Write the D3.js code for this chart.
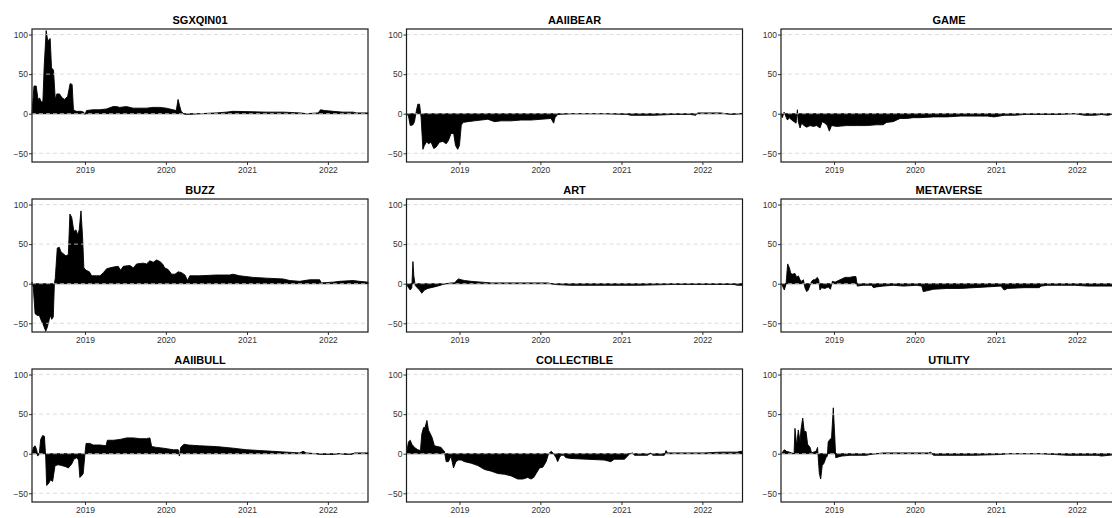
<!DOCTYPE html>
<html lang="en">
<head>
  <meta charset="UTF-8">
  <title>Sentiment series</title>
  <script src="https://d3js.org/d3.v7.min.js"></script>
  <style>
    body {
      margin: 0;
      background: #fff;
      font-family: "Liberation Sans", Arial, sans-serif;
    }
    .title {
      font-size: 11px;
      font-weight: bold;
      text-anchor: middle;
    }
    .axis text {
      font-size: 8.5px;
      fill: #333;
      font-family: "Liberation Sans", Arial, sans-serif;
    }
    .axis line { stroke: #333; }
    .axis path { display: none; }
    .grid {
      stroke: #d4d4d4;
      stroke-dasharray: 4 3;
      stroke-width: 0.8;
    }
  </style>
</head>
<body>
<svg width="1112" height="518"></svg>
<script>
  // Series, as [date, value]
  const sgxqin01 = [
    ["2018-05-07",0],["2018-05-16",35],["2018-05-26",35],["2018-06-03",18],["2018-06-10",20],["2018-06-17",15],
    ["2018-06-25",15],["2018-07-01",60],["2018-07-10",105],["2018-07-17",92],["2018-07-28",95],["2018-08-03",58],
    ["2018-08-12",55],["2018-08-20",18],["2018-08-27",25],["2018-09-08",25],["2018-09-20",20],["2018-10-02",18],
    ["2018-10-15",22],["2018-10-26",38],["2018-11-04",37],["2018-11-10",5],["2018-11-22",3],["2018-12-15",3],
    ["2018-12-26",2],["2019-01-01",-1],["2019-01-08",4],["2019-02-07",5],["2019-03-09",5],["2019-04-08",6],
    ["2019-05-08",9],["2019-05-23",9],["2019-06-07",8],["2019-07-07",9],["2019-08-06",7],["2019-10-05",7],
    ["2019-11-04",8],["2019-12-04",8],["2020-01-03",7],["2020-02-17",4],["2020-02-25",18],["2020-03-03",10],
    ["2020-03-10",3],["2020-03-21",0],["2020-04-02",-1],["2020-06-01",0],["2020-08-15",1],["2020-09-30",2],
    ["2020-10-30",3],["2021-03-31",2],["2021-06-14",2],["2021-08-28",1],["2021-09-27",0],["2021-11-18",1],
    ["2021-11-29",5],["2021-12-18",4],["2022-01-25",3],["2022-03-10",2],["2022-04-25",2],["2022-05-10",1],
    ["2022-07-01",1]
  ];
  const aaiibear = [
    ["2018-05-07",0],["2018-05-16",-3],["2018-05-24",-15],["2018-06-05",-14],["2018-06-12",-10],["2018-06-20",3],
    ["2018-06-27",12],["2018-07-05",12],["2018-07-12",-5],["2018-07-20",-45],["2018-07-27",-40],["2018-08-07",-35],
    ["2018-08-14",-38],["2018-08-26",-36],["2018-09-07",-44],["2018-09-18",-42],["2018-10-03",-36],["2018-10-18",-35],
    ["2018-11-02",-38],["2018-11-12",-34],["2018-11-24",-25],["2018-12-06",-25],["2018-12-14",-40],["2018-12-24",-45],
    ["2019-01-01",-40],["2019-01-09",-15],["2019-01-16",-11],["2019-02-08",-10],["2019-03-10",-9],["2019-04-09",-8],
    ["2019-05-09",-7],["2019-06-08",-10],["2019-07-08",-9],["2019-08-22",-9],["2019-10-06",-8],["2019-11-20",-8],
    ["2020-01-04",-7],["2020-02-18",-6],["2020-03-01",-12],["2020-03-07",-5],["2020-03-19",-1],["2020-05-18",0],
    ["2020-10-15",0],["2021-01-29",-1],["2021-02-12",-2],["2021-05-29",-2],["2021-08-12",-1],["2021-11-10",-1],
    ["2021-12-02",-2],["2021-12-10",1],["2022-03-25",1],["2022-05-09",-1],["2022-07-01",0]
  ];
  const game = [
    ["2018-05-07",0],["2018-05-13",-5],["2018-05-21",2],["2018-05-28",-3],["2018-06-05",-8],["2018-06-14",-5],
    ["2018-06-24",-8],["2018-07-05",-10],["2018-07-14",-12],["2018-07-20",5],["2018-07-24",-10],["2018-08-01",-18],
    ["2018-08-08",-12],["2018-08-19",-15],["2018-08-31",-17],["2018-09-15",-15],["2018-09-30",-16],["2018-10-15",-15],
    ["2018-10-30",-18],["2018-11-09",-10],["2018-11-21",-12],["2018-12-02",-15],["2018-12-11",-22],["2018-12-21",-15],
    ["2019-01-13",-16],["2019-02-27",-15],["2019-04-13",-15],["2019-05-28",-15],["2019-07-12",-14],["2019-08-11",-14],
    ["2019-08-26",-11],["2019-09-25",-10],["2019-10-26",-6],["2019-11-25",-6],["2019-12-25",-5],["2020-01-24",-5],
    ["2020-03-25",-4],["2020-05-24",-4],["2020-07-24",-3],["2020-09-23",-3],["2020-11-23",-3],["2020-12-23",-4],
    ["2021-02-07",-2],["2021-03-24",-2],["2021-05-08",-1],["2021-07-23",-1],["2021-10-07",-1],["2021-12-22",0],
    ["2022-02-05",-2],["2022-03-22",-2],["2022-04-21",-1],["2022-05-21",-2],["2022-06-05",-1],["2022-07-01",-1]
  ];
  const buzz = [
    ["2018-05-07",2],["2018-05-13",-5],["2018-05-21",-38],["2018-05-31",-40],["2018-06-09",-40],["2018-06-20",-48],
    ["2018-06-27",-52],["2018-07-08",-60],["2018-07-15",-55],["2018-07-24",-45],["2018-07-30",-40],["2018-08-04",-45],
    ["2018-08-11",-42],["2018-08-16",0],["2018-08-20",7],["2018-08-29",45],["2018-09-07",46],["2018-09-15",40],
    ["2018-09-25",38],["2018-10-07",35],["2018-10-18",37],["2018-10-25",88],["2018-11-02",84],["2018-11-12",66],
    ["2018-11-21",68],["2018-11-29",62],["2018-12-06",68],["2018-12-14",92],["2018-12-21",60],["2018-12-27",20],
    ["2019-01-06",17],["2019-01-21",15],["2019-01-31",10],["2019-02-23",10],["2019-03-10",10],["2019-03-25",14],
    ["2019-04-09",19],["2019-05-09",21],["2019-05-31",22],["2019-06-11",17],["2019-06-23",22],["2019-07-23",23],
    ["2019-08-07",20],["2019-08-22",25],["2019-09-21",26],["2019-10-06",25],["2019-10-21",29],["2019-11-05",27],
    ["2019-11-20",30],["2019-12-05",28],["2019-12-17",25],["2019-12-27",20],["2020-01-11",18],["2020-01-27",12],
    ["2020-02-11",12],["2020-02-26",15],["2020-03-12",14],["2020-03-27",11],["2020-04-08",4],["2020-04-18",10],
    ["2020-06-02",10],["2020-08-16",11],["2020-10-15",11],["2020-10-30",12],["2020-11-29",10],["2021-01-29",8],
    ["2021-03-30",7],["2021-06-13",6],["2021-07-13",4],["2021-08-27",3],["2021-10-11",5],["2021-11-25",5],
    ["2021-12-02",1],["2022-01-24",2],["2022-02-23",3],["2022-04-24",4],["2022-05-24",3],["2022-07-01",2]
  ];
  const art = [
    ["2018-05-07",0],["2018-05-16",-5],["2018-05-24",-8],["2018-05-31",-5],["2018-06-05",28],["2018-06-09",10],
    ["2018-06-15",-2],["2018-06-24",-5],["2018-07-05",-8],["2018-07-15",-12],["2018-07-27",-8],["2018-08-11",-6],
    ["2018-08-26",-5],["2018-09-10",-4],["2018-09-25",-3],["2018-10-18",-1],["2018-11-02",0],["2018-11-24",1],
    ["2018-12-09",1],["2018-12-16",3],["2018-12-27",6],["2019-01-09",5],["2019-01-24",4],["2019-02-23",3],
    ["2019-04-09",2],["2019-05-24",1],["2019-07-23",1],["2019-10-06",1],["2019-12-20",1],["2020-02-04",1],
    ["2020-03-05",-1],["2020-05-18",-2],["2020-10-15",-2],["2021-03-15",-2],["2021-08-12",-1],["2022-01-09",-1],
    ["2022-05-24",-1],["2022-06-08",-2],["2022-07-01",-2]
  ];
  const metaverse = [
    ["2018-05-07",0],["2018-05-14",-3],["2018-05-22",-8],["2018-05-30",0],["2018-06-06",25],["2018-06-14",20],
    ["2018-06-20",13],["2018-06-29",12],["2018-07-09",13],["2018-07-17",8],["2018-07-24",10],["2018-08-01",5],
    ["2018-08-08",3],["2018-08-16",5],["2018-08-23",-5],["2018-08-31",-10],["2018-09-07",-8],["2018-09-15",-2],
    ["2018-09-22",3],["2018-09-30",5],["2018-10-07",5],["2018-10-18",8],["2018-10-24",5],["2018-10-30",-8],
    ["2018-11-06",-5],["2018-11-21",-6],["2018-12-06",-4],["2018-12-16",-7],["2018-12-25",3],["2019-01-06",2],
    ["2019-01-21",4],["2019-02-05",6],["2019-02-20",8],["2019-03-14",8],["2019-03-29",9],["2019-04-10",9],
    ["2019-04-16",-3],["2019-05-13",-2],["2019-06-20",-2],["2019-06-28",-5],["2019-07-12",-4],["2019-08-11",-3],
    ["2019-09-25",-2],["2019-11-10",-3],["2020-01-09",-2],["2020-02-01",-3],["2020-02-08",-10],["2020-02-23",-9],
    ["2020-03-25",-7],["2020-05-24",-6],["2020-07-24",-6],["2020-09-23",-5],["2020-11-23",-4],["2021-01-23",-3],
    ["2021-02-07",-8],["2021-02-22",-6],["2021-05-08",-5],["2021-07-15",-5],["2021-07-23",-3],["2021-08-22",-2],
    ["2021-10-22",-2],["2021-12-22",-2],["2022-02-20",-3],["2022-04-21",-3],["2022-07-01",-3]
  ];
  const aaiibull = [
    ["2018-05-07",0],["2018-05-13",8],["2018-05-21",10],["2018-05-28",5],["2018-06-02",-3],["2018-06-09",0],
    ["2018-06-15",18],["2018-06-24",23],["2018-07-02",22],["2018-07-08",-5],["2018-07-12",-40],["2018-07-20",-38],
    ["2018-07-30",-33],["2018-08-08",-35],["2018-08-19",-15],["2018-09-03",-14],["2018-09-18",-15],["2018-10-03",-16],
    ["2018-10-18",-18],["2018-11-02",-13],["2018-11-12",-7],["2018-11-24",-5],["2018-12-03",-8],["2018-12-09",-30],
    ["2018-12-16",-28],["2018-12-24",-25],["2019-01-01",0],["2019-01-06",13],["2019-01-23",13],["2019-02-07",11],
    ["2019-03-10",11],["2019-04-06",10],["2019-04-12",17],["2019-05-09",17],["2019-06-08",18],["2019-07-08",20],
    ["2019-08-07",20],["2019-09-06",19],["2019-10-06",19],["2019-10-21",20],["2019-10-29",9],["2019-11-20",8],
    ["2019-12-20",7],["2020-02-04",5],["2020-02-26",5],["2020-03-02",-3],["2020-03-08",8],["2020-03-23",12],
    ["2020-04-11",11],["2020-06-02",10],["2020-08-16",9],["2020-10-30",7],["2020-12-30",5],["2021-02-28",4],
    ["2021-04-29",3],["2021-06-28",2],["2021-08-27",1],["2021-09-11",3],["2021-09-26",1],["2021-11-10",0],
    ["2021-11-25",-1],["2022-01-24",-1],["2022-02-23",0],["2022-03-25",-1],["2022-04-17",-1],["2022-05-02",1],
    ["2022-07-01",1]
  ];
  const collectible = [
    ["2018-05-07",0],["2018-05-16",15],["2018-05-24",17],["2018-05-31",12],["2018-06-12",8],["2018-06-27",5],
    ["2018-07-09",4],["2018-07-15",25],["2018-07-23",33],["2018-07-30",33],["2018-08-07",42],["2018-08-14",30],
    ["2018-08-23",25],["2018-08-31",20],["2018-09-10",10],["2018-09-25",9],["2018-10-10",8],["2018-10-18",5],
    ["2018-10-25",3],["2018-11-02",-10],["2018-11-12",-10],["2018-11-24",-3],["2018-12-05",-18],["2018-12-16",-10],
    ["2018-12-27",-8],["2019-01-09",-8],["2019-01-24",-10],["2019-02-23",-12],["2019-03-25",-15],["2019-04-24",-20],
    ["2019-05-24",-22],["2019-06-23",-25],["2019-07-23",-26],["2019-08-22",-28],["2019-09-21",-32],["2019-10-14",-32],
    ["2019-11-05",-30],["2019-11-20",-32],["2019-12-02",-30],["2019-12-13",-25],["2019-12-28",-18],["2020-01-12",-17],
    ["2020-01-27",-10],["2020-02-07",0],["2020-02-19",3],["2020-03-01",0],["2020-03-12",-5],["2020-03-19",-10],
    ["2020-03-27",-5],["2020-04-03",-2],["2020-04-15",-2],["2020-04-26",-5],["2020-05-18",-6],["2020-08-01",-7],
    ["2020-10-15",-8],["2020-11-14",-10],["2020-11-29",-7],["2021-01-14",-7],["2021-01-29",-3],["2021-02-06",0],
    ["2021-02-21",1],["2021-02-28",-2],["2021-04-29",-2],["2021-05-14",1],["2021-05-22",-2],["2021-07-13",-2],
    ["2021-07-21",4],["2021-07-28",1],["2021-10-26",1],["2022-01-09",1],["2022-03-25",2],["2022-06-08",2],
    ["2022-06-22",3],["2022-07-01",3]
  ];
  const utility = [
    ["2018-05-07",0],["2018-05-14",2],["2018-05-22",5],["2018-06-01",3],["2018-06-14",2],["2018-06-24",1],
    ["2018-07-05",0],["2018-07-09",32],["2018-07-17",10],["2018-07-24",30],["2018-08-01",15],["2018-08-05",30],
    ["2018-08-13",45],["2018-08-20",28],["2018-08-28",28],["2018-09-04",12],["2018-09-15",8],["2018-09-22",1],
    ["2018-09-30",2],["2018-10-12",3],["2018-10-19",8],["2018-10-22",-5],["2018-10-27",-25],["2018-11-02",-32],
    ["2018-11-09",-15],["2018-11-17",-12],["2018-11-26",-5],["2018-12-02",-3],["2018-12-06",15],["2018-12-14",18],
    ["2018-12-21",20],["2018-12-29",58],["2019-01-04",25],["2019-01-09",-5],["2019-01-21",-4],["2019-02-05",-3],
    ["2019-03-14",-2],["2019-05-28",-2],["2019-06-12",-1],["2019-08-11",1],["2019-10-26",1],["2020-01-24",1],
    ["2020-03-03",1],["2020-03-13",2],["2020-03-25",-2],["2020-05-24",-2],["2020-09-23",-2],["2021-01-23",-1],
    ["2021-02-22",0],["2021-07-23",0],["2021-09-22",-1],["2021-11-21",-2],["2022-02-20",-2],["2022-04-06",-2],
    ["2022-04-21",-3],["2022-07-01",-1]
  ];

  const panels = [
    {name: "SGXQIN01", data: sgxqin01},
    {name: "AAIIBEAR", data: aaiibear},
    {name: "GAME", data: game},
    {name: "BUZZ", data: buzz},
    {name: "ART", data: art},
    {name: "METAVERSE", data: metaverse},
    {name: "AAIIBULL", data: aaiibull},
    {name: "COLLECTIBLE", data: collectible},
    {name: "UTILITY", data: utility}
  ];
  const yearTicks = ["2019-01-01", "2020-01-01", "2021-01-01", "2022-01-01"];
  const yTicks = [-50, 0, 50, 100];
  const gridValues = [-50, 0, 50, 100];
  const dateRange = ["2018-05-07", "2022-07-01"];
  const valueRange = [-61, 107];

  const parse = d3.timeParse("%Y-%m-%d");
  const svg = d3.select("svg");

  const panelW = 336, panelH = 133;
  const left0 = 32, top0 = 29, colStep = 374.5, rowStep = 170;

  const x = d3.scaleTime().domain(dateRange.map(parse)).range([0, panelW]);
  const y = d3.scaleLinear().domain(valueRange).range([panelH, 0]);

  const area = d3.area()
    .x(d => x(parse(d[0])))
    .y0(y(0))
    .y1(d => y(d[1]));

  panels.forEach((p, i) => {
    const col = i % 3, row = Math.floor(i / 3);
    const g = svg.append("g")
      .attr("transform", `translate(${left0 + col * colStep},${top0 + row * rowStep})`);

    // area (polygon with border, like base graphics)
    g.append("path")
      .datum(p.data)
      .attr("d", area)
      .attr("fill", "#000")
      .attr("stroke", "#000")
      .attr("stroke-width", 0.9)
      .attr("stroke-linejoin", "round");

    // dashed grid on top
    g.selectAll("line.grid")
      .data(gridValues)
      .join("line")
      .attr("class", "grid")
      .attr("x1", 0).attr("x2", panelW)
      .attr("y1", d => y(d)).attr("y2", d => y(d));

    // axes
    g.append("g")
      .attr("class", "axis")
      .attr("transform", `translate(0,${panelH})`)
      .call(d3.axisBottom(x)
        .tickValues(yearTicks.map(parse))
        .tickFormat(d3.timeFormat("%Y"))
        .tickSize(3)
        .tickPadding(2));

    g.append("g")
      .attr("class", "axis")
      .call(d3.axisLeft(y)
        .tickValues(yTicks)
        .tickSize(3)
        .tickPadding(1));

    // border
    g.append("rect")
      .attr("width", panelW)
      .attr("height", panelH)
      .attr("fill", "none")
      .attr("stroke", "#1a1a1a")
      .attr("stroke-width", 1.2);

    g.append("text")
      .attr("class", "title")
      .attr("x", panelW / 2)
      .attr("y", -5)
      .text(p.name);
  });
</script>
</body>
</html>
